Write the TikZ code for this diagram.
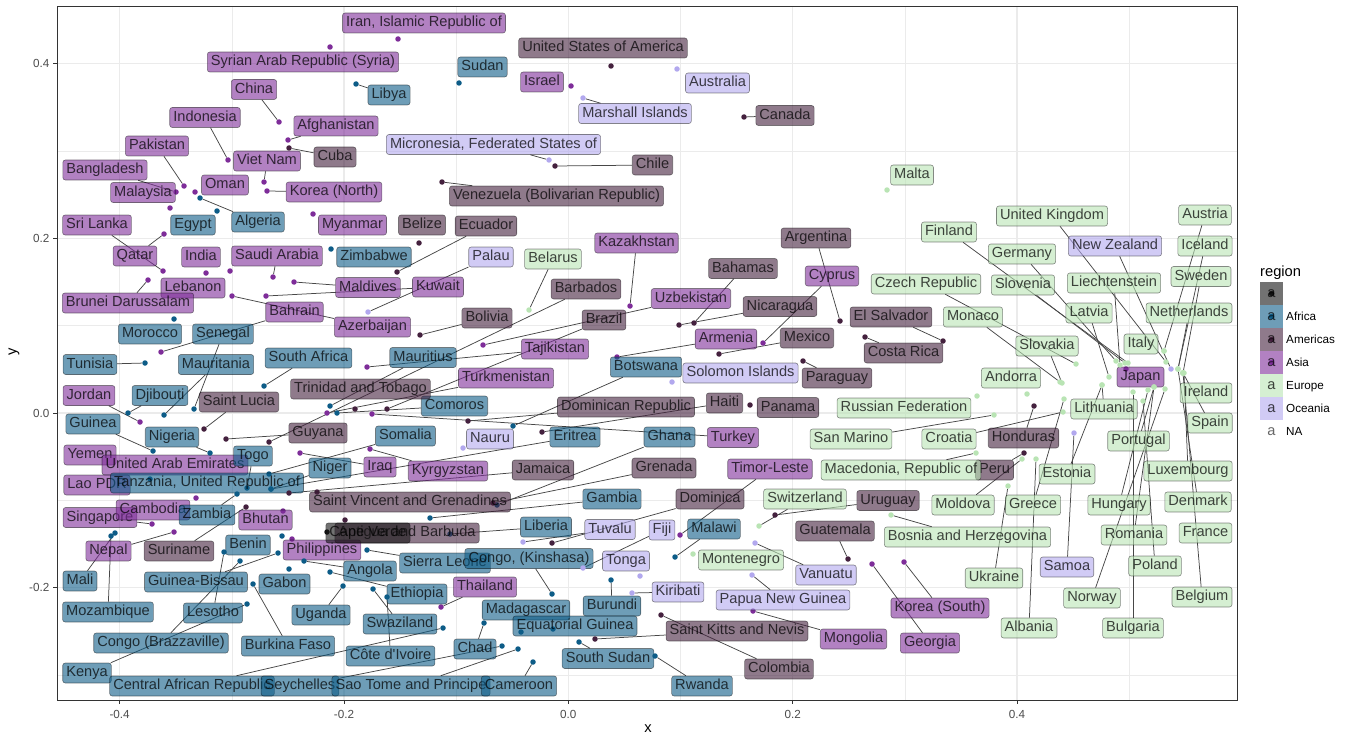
\documentclass[tikz,border=0pt]{standalone}
\usepackage{fontspec}
\setmainfont{Liberation Sans}
\usepackage{tikz}
\definecolor{colaf}{HTML}{0D5C87}
\definecolor{colam}{HTML}{44213E}
\definecolor{colas}{HTML}{7E2D99}
\definecolor{coleu}{HTML}{B9E4B4}
\definecolor{coloc}{HTML}{B2A8EE}
\definecolor{colna}{HTML}{141414}
\definecolor{gridgrey}{HTML}{EBEBEB}
\newcommand{\lblfont}{\fontsize{14.6}{16}\selectfont}
\newcommand{\tickfont}{\fontsize{11.7}{13}\selectfont}
\newcommand{\ttlfont}{\fontsize{14.7}{17}\selectfont}
\pgfdeclarelayer{background}
\pgfsetlayers{background,main}
\tikzset{
  labbase/.style={draw=black, draw opacity=0.45, fill opacity=0.6, text=black, text opacity=0.72,
    rounded corners=2.5pt, line width=0.6pt, inner xsep=3.6pt, inner ysep=3.15pt,
    text height=10.6pt, text depth=3.1pt, font=\lblfont},
  laf/.style={labbase, fill=colaf},
  lam/.style={labbase, fill=colam},
  las/.style={labbase, fill=colas},
  leu/.style={labbase, fill=coleu},
  loc/.style={labbase, fill=coloc},
  lna/.style={labbase, fill=colna},
  ptbase/.style={circle, inner sep=0pt, minimum size=5.5pt},
  paf/.style={ptbase, fill=colaf},
  pam/.style={ptbase, fill=colam},
  pas/.style={ptbase, fill=colas},
  peu/.style={ptbase, fill=coleu},
  poc/.style={ptbase, fill=coloc},
  pna/.style={ptbase, fill=colna},
  seg/.style={draw=black!72, line width=0.75pt},
  gridmaj/.style={draw=gridgrey, line width=1.07pt},
  gridmin/.style={draw=gridgrey, line width=0.53pt},
  axtick/.style={draw=black!80, line width=1pt},
  ticklab/.style={font=\tickfont, text=black!70, inner sep=0pt},
  keybox/.style={minimum size=23pt, inner sep=0pt, fill opacity=0.6, text=black, text opacity=0.72, font=\lblfont},
  keylab/.style={font=\tickfont, anchor=base west, inner sep=0pt}
}

\begin{document}
\begin{tikzpicture}[x=1pt, y=-1pt]
\useasboundingbox (0,0) rectangle (1352,741);

% panel grid
\begin{pgfonlayer}{background}
\foreach \gx in {231.8,456.2,680.5,904.9,1129.2} \draw[gridmin] (\gx,7) -- (\gx,700);
\foreach \gy in {150.9,325.7,500.4,675.1} \draw[gridmin] (57,\gy) -- (1237,\gy);
\foreach \gx in {119.6,344,568.3,792.7,1017} \draw[gridmaj] (\gx,7) -- (\gx,700);
\foreach \gy in {63.5,238.3,413,587.7} \draw[gridmaj] (57,\gy) -- (1237,\gy);
\end{pgfonlayer}

% Asia
\node[pas] (piran) at (398,39) {};
\node[las] (iran) at (424,23) {Iran, Islamic Republic of};
\node[pas] (psyria) at (330,47) {};
\node[las] (syria) at (303,62) {Syrian Arab Republic (Syria)};
\node[pas] (pisrael) at (571,86) {};
\node[las] (israel) at (542,82) {Israel};
\node[pas] (pchina) at (279,122) {};
\node[las] (china) at (254,89.5) {China};
\node[pas] (pindonesia) at (228,160) {};
\node[las] (indonesia) at (205,117.5) {Indonesia};
\node[pas] (pafghanistan) at (288,140) {};
\node[las] (afghanistan) at (336,126) {Afghanistan};
\node[pas] (ppakistan) at (184,186) {};
\node[las] (pakistan) at (157,146) {Pakistan};
\node[pas] (pvietnam) at (264,182) {};
\node[las] (vietnam) at (267,161) {Viet Nam};
\node[pas] (pbangladesh) at (176,192) {};
\node[las] (bangladesh) at (105,170) {Bangladesh};
\node[pas] (pmalaysia) at (170,208) {};
\node[las] (malaysia) at (143,192.5) {Malaysia};
\node[pas] (poman) at (195,192) {};
\node[las] (oman) at (225,185) {Oman};
\node[pas] (pkoreanorth) at (267,191) {};
\node[las] (koreanorth) at (334,192) {Korea (North)};
\node[pas] (pmyanmar) at (313,214) {};
\node[las] (myanmar) at (352.5,225) {Myanmar};
\node[pas] (psrilanka) at (163,271) {};
\node[las] (srilanka) at (97,225) {Sri Lanka};
\node[pas] (pqatar) at (164,234) {};
\node[las] (qatar) at (135,256) {Qatar};
\node[pas] (pindia) at (206,273) {};
\node[las] (india) at (201,257) {India};
\node[pas] (psaudi) at (273,277) {};
\node[las] (saudi) at (277,256) {Saudi Arabia};
\node[pas] (plebanon) at (230,271) {};
\node[las] (lebanon) at (193,288) {Lebanon};
\node[pas] (pbrunei) at (148,280) {};
\node[las] (brunei) at (128,303) {Brunei Darussalam};
\node[pas] (pmaldives) at (294,282) {};
\node[las] (maldives) at (368,287.5) {Maldives};
\node[pas] (pkuwait) at (266,296) {};
\node[las] (kuwait) at (438,287) {Kuwait};
\node[pas] (pbahrain) at (161,352) {};
\node[las] (bahrain) at (294.5,312) {Bahrain};
\node[pas] (pazerbaijan) at (232,296) {};
\node[las] (azerbaijan) at (372.5,327) {Azerbaijan};
\node[pas] (pkazakhstan) at (630,306) {};
\node[las] (kazakhstan) at (636.5,243) {Kazakhstan};
\node[pas] (puzbekistan) at (483,345) {};
\node[las] (uzbekistan) at (691,298.5) {Uzbekistan};
\node[pas] (pcyprus) at (763,343) {};
\node[las] (cyprus) at (832,276) {Cyprus};
\node[pas] (parmenia) at (617,357) {};
\node[las] (armenia) at (726,339) {Armenia};
\node[pas] (ptajikistan) at (367,367) {};
\node[las] (tajikistan) at (555,349) {Tajikistan};
\node[pas] (pturkmenistan) at (327,413) {};
\node[las] (turkmenistan) at (506,378) {Turkmenistan};
\node[pas] (pjordan) at (140,422) {};
\node[las] (jordan) at (89,395.5) {Jordan};
\node[pas] (pturkey) at (372,414) {};
\node[las] (turkey) at (733,437.5) {Turkey};
\node[pas] (piraq) at (300,453) {};
\node[las] (iraq) at (380,467) {Iraq};
\node[pas] (pkyrgyzstan) at (370,449) {};
\node[las] (kyrgyzstan) at (448,471) {Kyrgyzstan};
\node[las] (yemen) at (90,455) {Yemen};
\node[las] (uae) at (175,465) {United Arab Emirates};
\node[las] (laos) at (97,485) {Lao PDR};
\node[pas] (ptimor) at (680,535) {};
\node[las] (timor) at (770,469) {Timor-Leste};
\node[pas] (psingapore) at (152,524) {};
\node[las] (singapore) at (100,517.5) {Singapore};
\node[pas] (pcambodia) at (196,498) {};
\node[las] (cambodia) at (153,510) {Cambodia};
\node[pas] (pbhutan) at (283,511) {};
\node[las] (bhutan) at (265.5,520) {Bhutan};
\node[pas] (pnepal) at (174,532) {};
\node[las] (nepal) at (108.5,551) {Nepal};
\node[pas] (pphilippines) at (292,539) {};
\node[las] (philippines) at (322,550) {Philippines};
\node[pas] (pthailand) at (441,607) {};
\node[las] (thailand) at (485,587) {Thailand};
\node[pas] (pjapan) at (1126,369) {};
\node[las] (japan) at (1140.5,377) {Japan};
\node[pas] (pkoreasouth) at (904,562) {};
\node[las] (koreasouth) at (940,608) {Korea (South)};
\node[pas] (pmongolia) at (753,611) {};
\node[las] (mongolia) at (853.5,639) {Mongolia};
\node[pas] (pgeorgia) at (872,564) {};
\node[las] (georgia) at (930,643) {Georgia};

% Africa
\node[paf] (psudan) at (459,83) {};
\node[laf] (sudan) at (482.5,67) {Sudan};
\node[paf] (plibya) at (356,84) {};
\node[laf] (libya) at (389,95) {Libya};
\node[paf] (palgeria) at (200,198) {};
\node[laf] (algeria) at (258,222) {Algeria};
\node[paf] (pegypt) at (217,211) {};
\node[laf] (egypt) at (193,225) {Egypt};
\node[paf] (pzimbabwe) at (331,249) {};
\node[laf] (zimbabwe) at (374,257) {Zimbabwe};
\node[paf] (pmorocco) at (174,319) {};
\node[laf] (morocco) at (150,334) {Morocco};
\node[paf] (psenegal) at (194,409) {};
\node[laf] (senegal) at (223,334) {Senegal};
\node[paf] (ptunisia) at (145,363) {};
\node[laf] (tunisia) at (90,364.5) {Tunisia};
\node[paf] (pmauritania) at (164,415) {};
\node[laf] (mauritania) at (216,364.5) {Mauritania};
\node[paf] (psouthafrica) at (264,386) {};
\node[laf] (southafrica) at (308.5,358) {South Africa};
\node[paf] (pmauritius) at (330,406) {};
\node[laf] (mauritius) at (423,357.5) {Mauritius};
\node[paf] (pbotswana) at (513,426) {};
\node[laf] (botswana) at (646,367) {Botswana};
\node[paf] (pdjibouti) at (128,413) {};
\node[laf] (djibouti) at (160,395.5) {Djibouti};
\node[paf] (pcomoros) at (337,413) {};
\node[laf] (comoros) at (454.5,406) {Comoros};
\node[paf] (pguinea) at (153,451) {};
\node[laf] (guinea) at (93,424) {Guinea};
\node[paf] (pnigeria) at (210,453) {};
\node[laf] (nigeria) at (172,437) {Nigeria};
\node[paf] (psomalia) at (269,474) {};
\node[laf] (somalia) at (405.5,436) {Somalia};
\node[paf] (peritrea) at (271,489) {};
\node[laf] (eritrea) at (575,437) {Eritrea};
\node[paf] (pghana) at (497,505) {};
\node[laf] (ghana) at (669.5,437) {Ghana};
\node[paf] (ptogo) at (247,488) {};
\node[laf] (togo) at (253,456) {Togo};
\node[paf] (pniger) at (271,489) {};
\node[laf] (niger) at (330,468) {Niger};
\node[paf] (ptanzania) at (150,479) {};
\node[laf] (tanzania) at (207,483) {Tanzania, United Republic of};
\node[paf] (pzambia) at (237,494) {};
\node[laf] (zambia) at (207,515) {Zambia};
\node[paf] (pgambia) at (430,518) {};
\node[laf] (gambia) at (612,499) {Gambia};
\node[paf] (pliberia) at (450,534) {};
\node[laf] (liberia) at (546,527) {Liberia};
\node[paf] (pmalawi) at (675,557) {};
\node[laf] (malawi) at (714,529) {Malawi};
\node[paf] (pbenin) at (282,536) {};
\node[laf] (benin) at (248,545) {Benin};
\node[paf] (psierraleone) at (367,550) {};
\node[laf] (sierraleone) at (445,563) {Sierra Leone};
\node[paf] (pcongokin) at (552,594) {};
\node[laf] (congokin) at (529,558.5) {Congo, (Kinshasa)};
\node[paf] (pangola) at (304,561) {};
\node[laf] (angola) at (370,571) {Angola};
\node[paf] (pmali) at (115,533) {};
\node[laf] (mali) at (80,581) {Mali};
\node[paf] (pguineabissau) at (278,553) {};
\node[laf] (guineabissau) at (196,582) {Guinea-Bissau};
\node[paf] (pgabon) at (289,569) {};
\node[laf] (gabon) at (284.5,584) {Gabon};
\node[paf] (pethiopia) at (330,572) {};
\node[laf] (ethiopia) at (417,594) {Ethiopia};
\node[paf] (pburkina) at (253,584) {};
\node[laf] (burkina) at (288,646) {Burkina Faso};
\node[paf] (puganda) at (343,586) {};
\node[laf] (uganda) at (321,615) {Uganda};
\node[paf] (pswaziland) at (373,589) {};
\node[laf] (swaziland) at (400,624) {Swaziland};
\node[paf] (pmozambique) at (111,536) {};
\node[laf] (mozambique) at (108,612) {Mozambique};
\node[paf] (plesotho) at (224,552) {};
\node[laf] (lesotho) at (213,613) {Lesotho};
\node[paf] (pmadagascar) at (521,632) {};
\node[laf] (madagascar) at (526,610) {Madagascar};
\node[paf] (pburundi) at (611,580) {};
\node[laf] (burundi) at (612,606) {Burundi};
\node[paf] (pcongobra) at (240,561) {};
\node[laf] (congobra) at (161,643) {Congo (Brazzaville)};
\node[paf] (pcotedivoire) at (387,597) {};
\node[laf] (cotedivoire) at (390.5,656) {Côte d\textquotesingle Ivoire};
\node[paf] (pchad) at (484,623) {};
\node[laf] (chad) at (475,649) {Chad};
\node[paf] (peqguinea) at (553,629) {};
\node[laf] (eqguinea) at (575,626) {Equatorial Guinea};
\node[paf] (pkenya) at (247,604) {};
\node[laf] (kenya) at (87,673) {Kenya};
\node[paf] (psouthsudan) at (579,642) {};
\node[laf] (southsudan) at (608,658.5) {South Sudan};
\node[paf] (pcar) at (443,628) {};
\node[laf] (car) at (192,686) {Central African Republic};
\node[paf] (pseychelles) at (502,646) {};
\node[laf] (seychelles) at (300,686) {Seychelles};
\node[paf] (psaotome) at (518,649) {};
\node[laf] (saotome) at (411,686) {Sao Tome and Principe};
\node[paf] (pcameroon) at (533,662) {};
\node[laf] (cameroon) at (519,686) {Cameroon};
\node[paf] (prwanda) at (655,656) {};
\node[laf] (rwanda) at (702,686) {Rwanda};

% Americas
\node[pam] (pusa) at (611,66) {};
\node[lam] (usa) at (603,48) {United States of America};
\node[pam] (pcanada) at (744,117) {};
\node[lam] (canada) at (785,115.5) {Canada};
\node[pam] (pcuba) at (289,148) {};
\node[lam] (cuba) at (335,157) {Cuba};
\node[pam] (pchile) at (555,166) {};
\node[lam] (chile) at (652.5,165) {Chile};
\node[pam] (pvenezuela) at (442,182) {};
\node[lam] (venezuela) at (556.5,196) {Venezuela (Bolivarian Republic)};
\node[pam] (pbelize) at (419,243) {};
\node[lam] (belize) at (422,225) {Belize};
\node[pam] (pecuador) at (397,272) {};
\node[lam] (ecuador) at (486,226) {Ecuador};
\node[pam] (pargentina) at (840,321) {};
\node[lam] (argentina) at (816,238) {Argentina};
\node[pam] (pbahamas) at (694,323) {};
\node[lam] (bahamas) at (743,268.5) {Bahamas};
\node[pam] (pbarbados) at (269,442) {};
\node[lam] (barbados) at (586,289) {Barbados};
\node[pam] (pnicaragua) at (679,325) {};
\node[lam] (nicaragua) at (780,306.5) {Nicaragua};
\node[pam] (pbolivia) at (420,335) {};
\node[lam] (bolivia) at (487,318) {Bolivia};
\node[pam] (pbrazil) at (387,409) {};
\node[lam] (brazil) at (604,320) {Brazil};
\node[pam] (pelsalvador) at (943,341) {};
\node[lam] (elsalvador) at (891,317) {El Salvador};
\node[pam] (pmexico) at (719,354) {};
\node[lam] (mexico) at (807,338) {Mexico};
\node[pam] (pcostarica) at (865,337) {};
\node[lam] (costarica) at (903.5,353) {Costa Rica};
\node[pam] (pparaguay) at (803,361) {};
\node[lam] (paraguay) at (837,378) {Paraguay};
\node[pam] (ptrinidad) at (355,409) {};
\node[lam] (trinidad) at (360.5,389) {Trinidad and Tobago};
\node[pam] (psaintlucia) at (204,429) {};
\node[lam] (saintlucia) at (239,402) {Saint Lucia};
\node[pam] (pdominicanrep) at (468,421) {};
\node[lam] (dominicanrep) at (626,407) {Dominican Republic};
\node[pam] (phaiti) at (542,432) {};
\node[lam] (haiti) at (724.5,403) {Haiti};
\node[pam] (ppanama) at (750,405) {};
\node[lam] (panama) at (788,407.5) {Panama};
\node[pam] (pguyana) at (226,439) {};
\node[lam] (guyana) at (318,433) {Guyana};
\node[pam] (phonduras) at (1034,406) {};
\node[lam] (honduras) at (1023.5,438) {Honduras};
\node[pam] (pjamaica) at (289,493) {};
\node[lam] (jamaica) at (543,470) {Jamaica};
\node[pam] (pgrenada) at (493,503) {};
\node[lam] (grenada) at (664,468) {Grenada};
\node[pam] (psaintvincent) at (317,492) {};
\node[lam] (saintvincent) at (410,502) {Saint Vincent and Grenadines};
\node[pam] (pdominica) at (552,543) {};
\node[lam] (dominica) at (710,499) {Dominica};
\node[pam] (puruguay) at (775,515) {};
\node[lam] (uruguay) at (888,500.5) {Uruguay};
\node[pam] (pantigua) at (345,520) {};
\node[lam] (antigua) at (407,533) {Antigua and Barbuda};
\node[pam] (pguatemala) at (848,559) {};
\node[lam] (guatemala) at (835,531) {Guatemala};
\node[pam] (psuriname) at (246,507) {};
\node[lam] (suriname) at (179,551) {Suriname};
\node[pam] (pperu) at (1024,453) {};
\node[lam] (peru) at (994.5,470) {Peru};
\node[pam] (psaintkitts) at (595,639) {};
\node[lam] (saintkitts) at (737,631) {Saint Kitts and Nevis};
\node[pam] (pcolombia) at (661,615) {};
\node[lam] (colombia) at (779,669) {Colombia};

% Oceania
\node[poc] (paustralia) at (677,69) {};
\node[loc] (australia) at (717.5,83) {Australia};
\node[poc] (pmarshall) at (583,98) {};
\node[loc] (marshall) at (635,113.5) {Marshall Islands};
\node[poc] (pmicronesia) at (549,160) {};
\node[loc] (micronesia) at (493.5,144.5) {Micronesia, Federated States of};
\node[poc] (ppalau) at (368,312) {};
\node[loc] (palau) at (491,257) {Palau};
\node[poc] (pnewzealand) at (1171,369) {};
\node[loc] (newzealand) at (1115,246) {New Zealand};
\node[poc] (psolomon) at (672,382) {};
\node[loc] (solomon) at (740.5,373) {Solomon Islands};
\node[poc] (pnauru) at (463,448) {};
\node[loc] (nauru) at (490,439) {Nauru};
\node[poc] (ptuvalu) at (523,542) {};
\node[loc] (tuvalu) at (610,529.5) {Tuvalu};
\node[poc] (pfiji) at (583,568) {};
\node[loc] (fiji) at (662,530) {Fiji};
\node[poc] (ptonga) at (640,576) {};
\node[loc] (tonga) at (626,561) {Tonga};
\node[poc] (pkiribati) at (632,593) {};
\node[loc] (kiribati) at (678,592) {Kiribati};
\node[poc] (pvanuatu) at (755,543) {};
\node[loc] (vanuatu) at (826,575) {Vanuatu};
\node[poc] (ppapua) at (752,575) {};
\node[loc] (papua) at (783,600) {Papua New Guinea};
\node[poc] (psamoa) at (1074,433) {};
\node[loc] (samoa) at (1067,567) {Samoa};

% Europe
\node[peu] (pmalta) at (887,190) {};
\node[leu] (malta) at (912,175) {Malta};
\node[peu] (puk) at (1166,362) {};
\node[leu] (uk) at (1052,216) {United Kingdom};
\node[peu] (paustria) at (1164,351) {};
\node[leu] (austria) at (1205,215) {Austria};
\node[peu] (pfinland) at (1128,363) {};
\node[leu] (finland) at (949,232) {Finland};
\node[peu] (piceland) at (1178,369) {};
\node[leu] (iceland) at (1205,246) {Iceland};
\node[peu] (pgermany) at (1116,361) {};
\node[leu] (germany) at (1022,254) {Germany};
\node[peu] (pbelarus) at (529,310) {};
\node[leu] (belarus) at (553,259) {Belarus};
\node[peu] (psweden) at (1183,373) {};
\node[leu] (sweden) at (1201,276.5) {Sweden};
\node[peu] (pczech) at (1076,364) {};
\node[leu] (czech) at (926,284) {Czech Republic};
\node[peu] (pslovenia) at (1125,363) {};
\node[leu] (slovenia) at (1023,285) {Slovenia};
\node[peu] (pliechtenstein) at (1120,365) {};
\node[leu] (liechtenstein) at (1114,283) {Liechtenstein};
\node[peu] (platvia) at (1109,377) {};
\node[leu] (latvia) at (1089,313) {Latvia};
\node[peu] (pnetherlands) at (1178,369) {};
\node[leu] (netherlands) at (1189,313) {Netherlands};
\node[peu] (pmonaco) at (1060,382) {};
\node[leu] (monaco) at (973,317) {Monaco};
\node[peu] (pitaly) at (1164,351) {};
\node[leu] (italy) at (1141,344) {Italy};
\node[peu] (pslovakia) at (1062,383) {};
\node[leu] (slovakia) at (1047,346) {Slovakia};
\node[peu] (pandorra) at (1027,394) {};
\node[leu] (andorra) at (1011,378) {Andorra};
\node[peu] (pireland) at (1183,373) {};
\node[leu] (ireland) at (1206,393) {Ireland};
\node[peu] (prussia) at (977,396) {};
\node[leu] (russia) at (904,408) {Russian Federation};
\node[peu] (plithuania) at (1102,385) {};
\node[leu] (lithuania) at (1104,409) {Lithuania};
\node[peu] (psanmarino) at (994,415) {};
\node[leu] (sanmarino) at (851,439) {San Marino};
\node[peu] (pcroatia) at (1063,412) {};
\node[leu] (croatia) at (949,439) {Croatia};
\node[peu] (pspain) at (1183,373) {};
\node[leu] (spain) at (1210,423) {Spain};
\node[peu] (pportugal) at (1154,387) {};
\node[leu] (portugal) at (1138.5,441) {Portugal};
\node[peu] (pmacedonia) at (976,453) {};
\node[leu] (macedonia) at (901,470) {Macedonia, Republic of};
\node[peu] (pestonia) at (1102,385) {};
\node[leu] (estonia) at (1067,474) {Estonia};
\node[peu] (pluxembourg) at (1184,373) {};
\node[leu] (luxembourg) at (1188,471) {Luxembourg};
\node[peu] (pswitzerland) at (759,526) {};
\node[leu] (switzerland) at (805,499) {Switzerland};
\node[peu] (pmoldova) at (1022,459) {};
\node[leu] (moldova) at (963,505) {Moldova};
\node[peu] (pgreece) at (1064,399) {};
\node[leu] (greece) at (1033,505) {Greece};
\node[peu] (phungary) at (1148,390) {};
\node[leu] (hungary) at (1119,505) {Hungary};
\node[peu] (pdenmark) at (1178,369) {};
\node[leu] (denmark) at (1198,502) {Denmark};
\node[peu] (pbosnia) at (891,515) {};
\node[leu] (bosnia) at (967.5,537) {Bosnia and Herzegovina};
\node[peu] (promania) at (1154,387) {};
\node[leu] (romania) at (1134,535) {Romania};
\node[peu] (pfrance) at (1183,373) {};
\node[leu] (france) at (1205.5,533) {France};
\node[peu] (pmontenegro) at (693,554) {};
\node[leu] (montenegro) at (741,560) {Montenegro};
\node[peu] (pukraine) at (1008,486) {};
\node[leu] (ukraine) at (994,578) {Ukraine};
\node[peu] (ppoland) at (1143,401) {};
\node[leu] (poland) at (1155,566) {Poland};
\node[peu] (pnorway) at (1165,389) {};
\node[leu] (norway) at (1092,598) {Norway};
\node[peu] (pbelgium) at (1183,373) {};
\node[leu] (belgium) at (1202,597) {Belgium};
\node[peu] (palbania) at (1036,459) {};
\node[leu] (albania) at (1029,628) {Albania};
\node[peu] (pbulgaria) at (1133,392) {};
\node[leu] (bulgaria) at (1133,628) {Bulgaria};

% no region
\node[pna] (pcapeverde) at (327,532) {};
\node[lna] (capeverde) at (368,533) {Cape Verde};

% repel segments, under the labels
\begin{pgfonlayer}{background}
\draw[seg] (pchina) -- (china);
\draw[seg] (pindonesia) -- (indonesia);
\draw[seg] (pafghanistan) -- (afghanistan);
\draw[seg] (ppakistan) -- (pakistan);
\draw[seg] (pvietnam) -- (vietnam);
\draw[seg] (pbangladesh) -- (bangladesh);
\draw[seg] (pkoreanorth) -- (koreanorth);
\draw[seg] (psrilanka) -- (srilanka);
\draw[seg] (pqatar) -- (qatar);
\draw[seg] (psaudi) -- (saudi);
\draw[seg] (pbrunei) -- (brunei);
\draw[seg] (pmaldives) -- (maldives);
\draw[seg] (pkuwait) -- (kuwait);
\draw[seg] (pbahrain) -- (bahrain);
\draw[seg] (pazerbaijan) -- (azerbaijan);
\draw[seg] (pkazakhstan) -- (kazakhstan);
\draw[seg] (puzbekistan) -- (uzbekistan);
\draw[seg] (pcyprus) -- (cyprus);
\draw[seg] (parmenia) -- (armenia);
\draw[seg] (ptajikistan) -- (tajikistan);
\draw[seg] (pturkmenistan) -- (turkmenistan);
\draw[seg] (pjordan) -- (jordan);
\draw[seg] (pturkey) -- (turkey);
\draw[seg] (piraq) -- (iraq);
\draw[seg] (pkyrgyzstan) -- (kyrgyzstan);
\draw[seg] (ptimor) -- (timor);
\draw[seg] (psingapore) -- (singapore);
\draw[seg] (pnepal) -- (nepal);
\draw[seg] (pthailand) -- (thailand);
\draw[seg] (pkoreasouth) -- (koreasouth);
\draw[seg] (pmongolia) -- (mongolia);
\draw[seg] (pgeorgia) -- (georgia);
\draw[seg] (plibya) -- (libya);
\draw[seg] (palgeria) -- (algeria);
\draw[seg] (psenegal) -- (senegal);
\draw[seg] (ptunisia) -- (tunisia);
\draw[seg] (pmauritania) -- (mauritania);
\draw[seg] (psouthafrica) -- (southafrica);
\draw[seg] (pmauritius) -- (mauritius);
\draw[seg] (pbotswana) -- (botswana);
\draw[seg] (pdjibouti) -- (djibouti);
\draw[seg] (pcomoros) -- (comoros);
\draw[seg] (pguinea) -- (guinea);
\draw[seg] (pnigeria) -- (nigeria);
\draw[seg] (psomalia) -- (somalia);
\draw[seg] (peritrea) -- (eritrea);
\draw[seg] (pghana) -- (ghana);
\draw[seg] (ptogo) -- (togo);
\draw[seg] (pniger) -- (niger);
\draw[seg] (pzambia) -- (zambia);
\draw[seg] (pgambia) -- (gambia);
\draw[seg] (pliberia) -- (liberia);
\draw[seg] (pmalawi) -- (malawi);
\draw[seg] (psierraleone) -- (sierraleone);
\draw[seg] (pcongokin) -- (congokin);
\draw[seg] (pangola) -- (angola);
\draw[seg] (pmali) -- (mali);
\draw[seg] (pguineabissau) -- (guineabissau);
\draw[seg] (pethiopia) -- (ethiopia);
\draw[seg] (pburkina) -- (burkina);
\draw[seg] (puganda) -- (uganda);
\draw[seg] (pswaziland) -- (swaziland);
\draw[seg] (pmozambique) -- (mozambique);
\draw[seg] (plesotho) -- (lesotho);
\draw[seg] (pburundi) -- (burundi);
\draw[seg] (pcongobra) -- (congobra);
\draw[seg] (pcotedivoire) -- (cotedivoire);
\draw[seg] (pchad) -- (chad);
\draw[seg] (pkenya) -- (kenya);
\draw[seg] (psouthsudan) -- (southsudan);
\draw[seg] (pcar) -- (car);
\draw[seg] (pseychelles) -- (seychelles);
\draw[seg] (psaotome) -- (saotome);
\draw[seg] (pcameroon) -- (cameroon);
\draw[seg] (prwanda) -- (rwanda);
\draw[seg] (pcanada) -- (canada);
\draw[seg] (pcuba) -- (cuba);
\draw[seg] (pchile) -- (chile);
\draw[seg] (pvenezuela) -- (venezuela);
\draw[seg] (pecuador) -- (ecuador);
\draw[seg] (pargentina) -- (argentina);
\draw[seg] (pbahamas) -- (bahamas);
\draw[seg] (pbarbados) -- (barbados);
\draw[seg] (pnicaragua) -- (nicaragua);
\draw[seg] (pbolivia) -- (bolivia);
\draw[seg] (pbrazil) -- (brazil);
\draw[seg] (pelsalvador) -- (elsalvador);
\draw[seg] (pmexico) -- (mexico);
\draw[seg] (pcostarica) -- (costarica);
\draw[seg] (pparaguay) -- (paraguay);
\draw[seg] (psaintlucia) -- (saintlucia);
\draw[seg] (pdominicanrep) -- (dominicanrep);
\draw[seg] (phaiti) -- (haiti);
\draw[seg] (pguyana) -- (guyana);
\draw[seg] (phonduras) -- (honduras);
\draw[seg] (pjamaica) -- (jamaica);
\draw[seg] (pgrenada) -- (grenada);
\draw[seg] (pdominica) -- (dominica);
\draw[seg] (puruguay) -- (uruguay);
\draw[seg] (pguatemala) -- (guatemala);
\draw[seg] (psuriname) -- (suriname);
\draw[seg] (pperu) -- (peru);
\draw[seg] (psaintkitts) -- (saintkitts);
\draw[seg] (pcolombia) -- (colombia);
\draw[seg] (pmarshall) -- (marshall);
\draw[seg] (pmicronesia) -- (micronesia);
\draw[seg] (ppalau) -- (palau);
\draw[seg] (pnewzealand) -- (newzealand);
\draw[seg] (ptuvalu) -- (tuvalu);
\draw[seg] (pfiji) -- (fiji);
\draw[seg] (pkiribati) -- (kiribati);
\draw[seg] (pvanuatu) -- (vanuatu);
\draw[seg] (ppapua) -- (papua);
\draw[seg] (psamoa) -- (samoa);
\draw[seg] (puk) -- (uk);
\draw[seg] (paustria) -- (austria);
\draw[seg] (pfinland) -- (finland);
\draw[seg] (piceland) -- (iceland);
\draw[seg] (pgermany) -- (germany);
\draw[seg] (pbelarus) -- (belarus);
\draw[seg] (psweden) -- (sweden);
\draw[seg] (pczech) -- (czech);
\draw[seg] (pslovenia) -- (slovenia);
\draw[seg] (pliechtenstein) -- (liechtenstein);
\draw[seg] (platvia) -- (latvia);
\draw[seg] (pnetherlands) -- (netherlands);
\draw[seg] (pmonaco) -- (monaco);
\draw[seg] (pslovakia) -- (slovakia);
\draw[seg] (plithuania) -- (lithuania);
\draw[seg] (psanmarino) -- (sanmarino);
\draw[seg] (pcroatia) -- (croatia);
\draw[seg] (pspain) -- (spain);
\draw[seg] (pportugal) -- (portugal);
\draw[seg] (pmacedonia) -- (macedonia);
\draw[seg] (pestonia) -- (estonia);
\draw[seg] (pluxembourg) -- (luxembourg);
\draw[seg] (pswitzerland) -- (switzerland);
\draw[seg] (pmoldova) -- (moldova);
\draw[seg] (pgreece) -- (greece);
\draw[seg] (phungary) -- (hungary);
\draw[seg] (pdenmark) -- (denmark);
\draw[seg] (pbosnia) -- (bosnia);
\draw[seg] (promania) -- (romania);
\draw[seg] (pukraine) -- (ukraine);
\draw[seg] (ppoland) -- (poland);
\draw[seg] (pnorway) -- (norway);
\draw[seg] (pbelgium) -- (belgium);
\draw[seg] (palbania) -- (albania);
\draw[seg] (pbulgaria) -- (bulgaria);
\end{pgfonlayer}

% panel border, ticks and axis texts
\draw[black!80, line width=1pt] (57,7) rectangle (1237,700);
\foreach \gx/\gt in {119.6/-0.4,344/-0.2,568.3/0.0,792.7/0.2,1017/0.4} {
  \draw[axtick] (\gx,700) -- (\gx,703.7);
  \node[ticklab, anchor=base] at (\gx,718.2) {\gt};
}
\foreach \gy/\gt in {63.5/0.4,238.3/0.2,413/0.0,587.7/-0.2} {
  \draw[axtick] (53.3,\gy) -- (57,\gy);
  \node[ticklab, anchor=base east] at (49.5,\gy+4.2) {\gt};
}
\node[font=\ttlfont, inner sep=0pt] (xtitle) at (648,729) {x};
\node[font=\ttlfont, inner sep=0pt, rotate=90] (ytitle) at (14,352) {y};

% legend
\node[font=\ttlfont, anchor=base west, inner sep=0pt] (legtitle) at (1260,276) {region};
\node[pna] (kdna) at (1271.5,293.5) {};
\node[keybox, fill=colna] (keyna) at (1271.5,293.5) {a};
\node[paf] (kdaf) at (1271.5,316.5) {};
\node[keybox, fill=colaf] (keyaf) at (1271.5,316.5) {a};
\node[keylab] (txaf) at (1286,320.7) {Africa};
\node[pam] (kdam) at (1271.5,339.5) {};
\node[keybox, fill=colam] (keyam) at (1271.5,339.5) {a};
\node[keylab] (txam) at (1286,343.7) {Americas};
\node[pas] (kdas) at (1271.5,362.5) {};
\node[keybox, fill=colas] (keyas) at (1271.5,362.5) {a};
\node[keylab] (txas) at (1286,366.7) {Asia};
\node[keybox, fill=coleu] (keyeu) at (1271.5,385.5) {a};
\node[keylab] (txeu) at (1286,389.7) {Europe};
\node[keybox, fill=coloc] (keyoc) at (1271.5,408.5) {a};
\node[keylab] (txoc) at (1286,412.7) {Oceania};
\node[keybox, text opacity=0.6] (keyempty) at (1271.5,431.5) {a};
\node[keylab] (txempty) at (1286,435.7) {NA};
\end{tikzpicture}
\end{document}
